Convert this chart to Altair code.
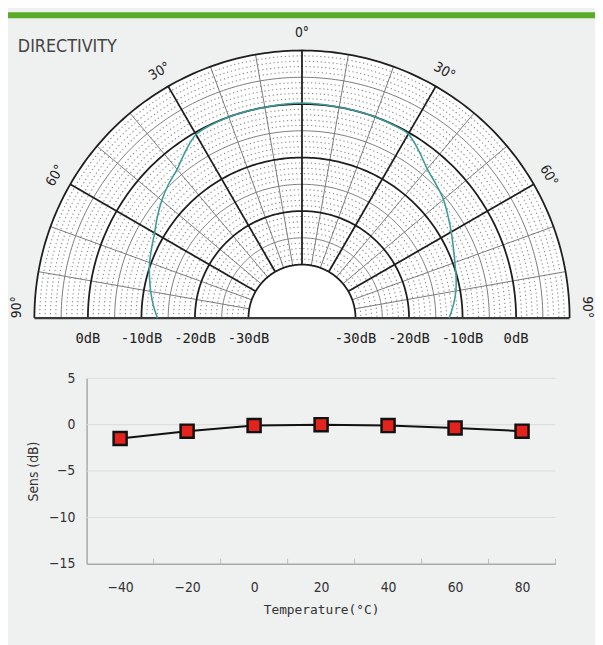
import altair as alt
import numpy as np
import pandas as pd

alt.data_transformers.disable_max_rows()

# ---------------- data ----------------
# directivity (angle in degrees from axis, level in dB), left and right halves
dir_angles = [0, 5, 10, 15, 20, 25, 30, 35, 40, 45, 50, 55, 60, 65, 70, 75, 80, 85, 90]
dir_left_db = [0.2, 0.1, 0.0, 0.0, 0.0, -0.1, -0.4, -2.0, -3.7, -4.7, -5.8, -7.0, -8.2,
               -9.0, -9.7, -10.5, -11.3, -12.1, -13.0]
dir_right_db = [0.2, 0.1, 0.0, 0.0, 0.0, -0.1, -0.3, -1.9, -3.6, -4.6, -5.5, -6.7, -7.8,
                -8.8, -9.6, -10.2, -10.8, -11.6, -12.5]

# temperature characteristic
temps = [-40, -20, 0, 20, 40, 60, 80]
sens_db = [-1.5, -0.7, -0.1, 0.0, -0.1, -0.35, -0.7]

# polar grid
ring_major_db = [-30, -20, -10, 0, 10]
ring_minor_db = [-25, -15, -5, 5]
ring_dot_db = [d for d in range(-29, 10) if d % 5 != 0]
spoke_major = [-60, -30, 0, 30, 60]
spoke_minor = [-80, -70, -50, -40, -20, -10, 10, 20, 40, 50, 70, 80]
angle_label_text = ["90°", "60°", "30°", "0°", "30°", "60°", "90°"]
angle_label_pos = [-87.8, -60, -30, 0, 30, 60, 87.8]
angle_label_rot = [270, 300, 330, 0, 30, 60, 90]
db_label_levels = [0, -10, -20, -30]

# bottom chart axes
y_ticks = [5, 0, -5, -10, -15]
x_labels = [-40, -20, 0, 20, 40, 60, 80]
x_minor_ticks = [-30, -10, 10, 30, 50, 70, 90]
grid_y = [5, 0, -5, -10]

# ---------------- scales ----------------
W, H = 595, 637
PX = alt.Scale(domain=[-50, 50], range=[26.75, 569.25], nice=False, zero=False)
PY = alt.Scale(domain=[0, 50], range=[310, 38.75], nice=False, zero=False)
BX = alt.Scale(domain=[-50, 90], range=[79.7, 555], nice=False, zero=False)
BY = alt.Scale(domain=[-15, 5], range=[559, 371], nice=False, zero=False)

DARK = "#1e1e1e"
GRAY = "#7a7a7a"
NARROW = "Liberation Sans Narrow, DejaVu Sans Condensed, sans-serif"
MONO = "DejaVu Sans Mono, monospace"

sweep = np.arange(-90, 91, 1.0)


def ring_frame(levels):
    rows = [(d, a) for d in levels for a in sweep]
    return pd.DataFrame(rows, columns=["db", "ang"])


def polar_xy(chart, r_expr="datum.db + 40", a_expr="datum.ang", px="px", py="py"):
    return chart.transform_calculate(
        **{px: f"({r_expr}) * sin(({a_expr}) * PI / 180)",
           py: f"({r_expr}) * cos(({a_expr}) * PI / 180)"}
    )


def pxy(px="px", py="py"):
    return dict(x=alt.X(f"{px}:Q", scale=PX, axis=None),
                y=alt.Y(f"{py}:Q", scale=PY, axis=None))


# white half disc
disc = polar_xy(alt.Chart(pd.DataFrame({"ang": sweep, "db": 10})),
                ).mark_area(fill="white", orient="vertical").encode(
    **pxy(), y2=alt.datum(0))

dots = polar_xy(alt.Chart(ring_frame(ring_dot_db))).mark_line(
    stroke="#8c8c8c", strokeWidth=1.1, strokeDash=[1.3, 2.7]).encode(
    **pxy(), detail="db:N", order="ang:Q")

minor_rings = polar_xy(alt.Chart(ring_frame(ring_minor_db))).mark_line(
    stroke=GRAY, strokeWidth=1).encode(**pxy(), detail="db:N", order="ang:Q")

spoke_df_minor = pd.DataFrame({"ang": spoke_minor})
spoke_df_major = pd.DataFrame({"ang": spoke_major})


def spokes(df, color, width):
    c = alt.Chart(df).transform_calculate(
        x0="10 * sin(datum.ang * PI / 180)", y0="10 * cos(datum.ang * PI / 180)",
        x1="50 * sin(datum.ang * PI / 180)", y1="50 * cos(datum.ang * PI / 180)")
    return c.mark_rule(stroke=color, strokeWidth=width).encode(
        x=alt.X("x0:Q", scale=PX, axis=None), y=alt.Y("y0:Q", scale=PY, axis=None),
        x2="x1:Q", y2="y1:Q")


minor_spokes = spokes(spoke_df_minor, GRAY, 1)
major_rings = polar_xy(alt.Chart(ring_frame(ring_major_db))).mark_line(
    stroke=DARK, strokeWidth=1.8).encode(**pxy(), detail="db:N", order="ang:Q")
major_spokes = spokes(spoke_df_major, DARK, 1.8)

baseline = alt.Chart(pd.DataFrame({"xa": [-50], "xb": [50], "yv": [0]})).mark_rule(
    stroke="#3a3a3a", strokeWidth=2.5).encode(
    x=alt.X("xa:Q", scale=PX, axis=None), x2="xb:Q",
    y=alt.Y("yv:Q", scale=PY, axis=None))

dir_df = pd.DataFrame({
    "ang": [-a for a in dir_angles[::-1]] + dir_angles[1:],
    "db": dir_left_db[::-1] + dir_right_db[1:],
})
directivity = polar_xy(alt.Chart(dir_df)).mark_line(
    stroke="#3f9b9b", strokeWidth=1.6, interpolate="catmull-rom").encode(
    **pxy(), order="ang:Q")

ang_lab_df = pd.DataFrame({"t": angle_label_text, "ang": angle_label_pos,
                           "rot": angle_label_rot, "db": 13.2})
angle_labels = polar_xy(alt.Chart(ang_lab_df)).mark_text(
    font=NARROW, fontSize=14, color="#222", align="center", baseline="middle").encode(
    **pxy(), text="t:N", angle=alt.Angle("rot:Q", scale=None))

db_lab_df = pd.DataFrame({
    "t": [f"{d}dB" for d in db_label_levels] + [f"{d}dB" for d in db_label_levels[::-1]],
    "r": [-(d + 40) for d in db_label_levels] + [d + 40 for d in db_label_levels[::-1]],
    "yv": -4.0,
})
db_labels = alt.Chart(db_lab_df).mark_text(
    font=MONO, fontSize=14, color="#222", align="center", baseline="middle").encode(
    x=alt.X("r:Q", scale=PX, axis=None), y=alt.Y("yv:Q", scale=PY, axis=None), text="t:N")

polar = alt.layer(disc, dots, minor_rings, minor_spokes, major_rings, major_spokes,
                  baseline, directivity, angle_labels, db_labels)

# ---------------- bottom chart ----------------
AX_COL = "#a9a9a9"
x_axis = alt.Axis(orient="bottom", offset=-(H - 559), values=x_labels,
                  grid=False, ticks=False, domainColor=AX_COL, domainWidth=1.5,
                  labelFont=NARROW, labelFontSize=14, labelColor="#333",
                  labelPadding=17, labelFlush=False,
                  title="Temperature(°C)", titleFont=MONO, titleFontSize=13,
                  titleFontWeight="normal", titleColor="#333", titlePadding=9)
y_axis = alt.Axis(orient="left", offset=-79.7, values=y_ticks, grid=False, ticks=False,
                  domainColor=AX_COL, domainWidth=1.5, labelFont=NARROW,
                  labelFontSize=14, labelColor="#333", labelPadding=12, labelFlush=False,
                  title="Sens (dB)", titleFont="DejaVu Sans Condensed, sans-serif",
                  titleFontSize=14, titleFontWeight="normal", titleColor="#333",
                  titlePadding=8)

grid_df = pd.DataFrame({"yv": grid_y, "xa": -50, "xb": 90})
grid = alt.Chart(grid_df).mark_rule(stroke="#d9d9d9", strokeWidth=1).encode(
    x=alt.X("xa:Q", scale=BX, axis=x_axis), x2="xb:Q",
    y=alt.Y("yv:Q", scale=BY, axis=y_axis))

tick_df = pd.DataFrame({"xv": x_minor_ticks, "yv": -15})
ticks = alt.Chart(tick_df).mark_tick(orient="vertical", size=5, thickness=1,
                                     color=AX_COL, yOffset=-2.5).encode(
    x=alt.X("xv:Q", scale=BX, axis=x_axis), y=alt.Y("yv:Q", scale=BY, axis=y_axis))

temp_df = pd.DataFrame({"temp": temps, "sens": sens_db})
line = alt.Chart(temp_df).mark_line(color="#111", strokeWidth=2).encode(
    x=alt.X("temp:Q", scale=BX, axis=x_axis), y=alt.Y("sens:Q", scale=BY, axis=y_axis))
points = alt.Chart(temp_df).mark_square(
    size=175, fill="#e3241c", stroke="#111", strokeWidth=2.5, opacity=1).encode(
    x=alt.X("temp:Q", scale=BX, axis=x_axis), y=alt.Y("sens:Q", scale=BY, axis=y_axis))

bottom = alt.layer(grid, ticks, line, points)

band = alt.Chart(pd.DataFrame({"k": [0]})).mark_rect(color="#5aab27").encode(
    x=alt.value(0), x2=alt.value(W), y=alt.value(0), y2=alt.value(6))

chart = alt.layer(band, polar, bottom).resolve_scale(
    x="independent", y="independent"
).properties(
    width=W, height=H, padding=0,
    autosize=alt.AutoSizeParams(type="none"),
    background="#eff0f0",
    title=alt.TitleParams("DIRECTIVITY", anchor="start", orient="top", frame="group",
                          offset=-44, dx=10, font=NARROW, fontSize=18,
                          fontWeight="normal", color="#444"),
).configure_view(stroke=None)

chart.save("out.html", embed_options={"renderer": "svg", "actions": False})
